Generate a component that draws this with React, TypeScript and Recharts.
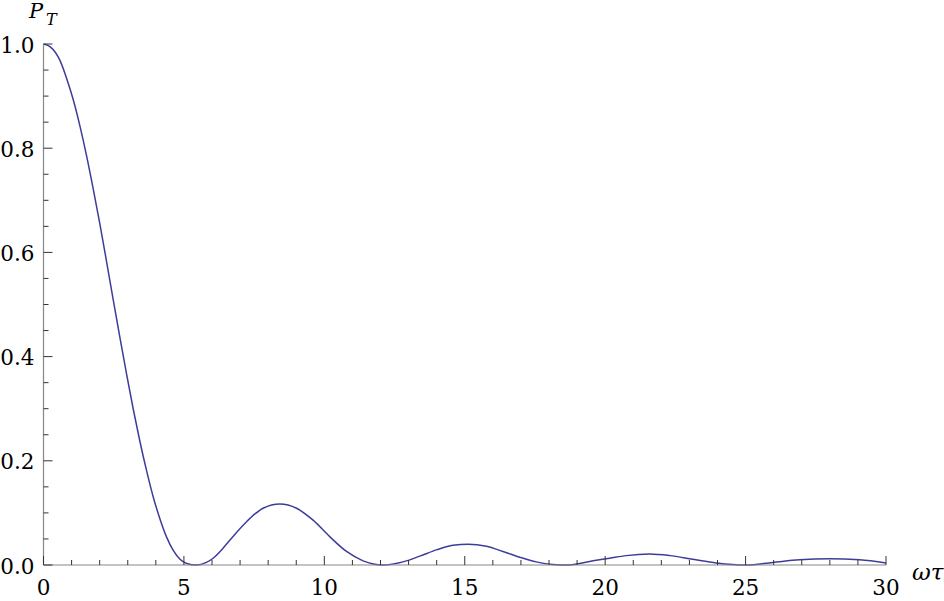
import React from 'react';
import { LineChart, Line, XAxis, YAxis } from 'recharts';

// ωτ values
const omegaTau = [
  0, 0.23, 0.59, 0.83, 1.06, 1.3, 1.54, 1.77, 2.01, 2.25, 2.48, 2.72, 2.96, 3.2, 3.43, 3.67, 3.91,
  4.15, 4.38, 4.62, 4.86, 5.1, 5.45, 5.8, 6.04, 6.34, 6.64, 7.23, 7.53, 7.82, 8.42, 9.01, 9.6,
  10.2, 10.79, 11.38, 12.1, 12.8, 13.4, 13.99, 14.58, 15.12, 15.77, 16.36, 16.96, 17.55, 18.14,
  18.7, 19.57, 20.16, 20.75, 21.58, 22.3, 23.12, 23.96, 25.0, 25.97, 26.92, 27.99, 29.06, 30,
];
// P_T values
const pT = [
  1.0, 0.995, 0.968, 0.933, 0.893, 0.842, 0.784, 0.722, 0.654, 0.581, 0.51, 0.437, 0.366, 0.298,
  0.238, 0.181, 0.13, 0.088, 0.054, 0.028, 0.011, 0.003, 0.0, 0.005, 0.013, 0.029, 0.048, 0.083,
  0.098, 0.109, 0.117, 0.109, 0.086, 0.054, 0.026, 0.008, 0.0, 0.006, 0.017, 0.029, 0.038, 0.04,
  0.036, 0.026, 0.015, 0.006, 0.001, 0.0, 0.008, 0.013, 0.018, 0.021, 0.018, 0.011, 0.004, 0.0,
  0.005, 0.01, 0.012, 0.01, 0.004,
];

const xTicks = [
  0, 1, 2, 3, 4, 5, 6, 7, 8, 9, 10, 11, 12, 13, 14, 15, 16, 17, 18, 19, 20, 21, 22, 23, 24, 25,
  26, 27, 28, 29, 30,
];
const xMajor = [0, 5, 10, 15, 20, 25, 30];
const yTicks = [
  0, 0.05, 0.1, 0.15, 0.2, 0.25, 0.3, 0.35, 0.4, 0.45, 0.5, 0.55, 0.6, 0.65, 0.7, 0.75, 0.8,
  0.85, 0.9, 0.95, 1.0,
];
const yMajor = [0, 0.2, 0.4, 0.6, 0.8, 1.0];

const data = omegaTau.map((x, i) => ({ x, p: pT[i] }));

const FONT = 'DejaVu Serif';
const TICK_FS = 21.5;

const XTick = (props: any) => {
  const { x, y, payload } = props;
  const major = xMajor.includes(payload.value);
  return (
    <g>
      <line x1={x} y1={y} x2={x} y2={y - (major ? 9 : 5)} stroke="#333" strokeWidth={1} />
      {major && (
        <text x={x} y={y + 30} textAnchor="middle" fontFamily={FONT} fontSize={TICK_FS} fill="#000">
          {payload.value}
        </text>
      )}
    </g>
  );
};

const YTick = (props: any) => {
  const { x, y, payload } = props;
  const major = yMajor.some((m) => Math.abs(m - payload.value) < 1e-6);
  return (
    <g>
      <line x1={x} y1={y} x2={x + (major ? 9 : 5)} y2={y} stroke="#333" strokeWidth={1} />
      {major && (
        <text x={x - 9} y={y + 8.5} textAnchor="end" fontFamily={FONT} fontSize={TICK_FS} fill="#000">
          {payload.value.toFixed(1)}
        </text>
      )}
    </g>
  );
};

export default function App() {
  return (
    <div style={{ position: 'absolute', left: 0, top: 0, width: 944, height: 601, background: '#fff' }}>
      <LineChart width={944} height={601} data={data} margin={{ top: 44, right: 58, left: 0, bottom: 0 }}>
        <XAxis
          dataKey="x"
          type="number"
          domain={[0, 30]}
          ticks={xTicks}
          interval={0}
          tickSize={0}
          tickMargin={0}
          height={36}
          axisLine={{ stroke: '#888', strokeWidth: 1.2 }}
          tickLine={false}
          tick={<XTick />}
        />
        <YAxis
          type="number"
          domain={[0, 1]}
          ticks={yTicks}
          interval={0}
          tickSize={0}
          tickMargin={0}
          width={43.5}
          axisLine={{ stroke: '#888', strokeWidth: 1.2 }}
          tickLine={false}
          tick={<YTick />}
        />
        <Line
          type="monotone"
          dataKey="p"
          stroke="#3d3d99"
          strokeWidth={1.5}
          dot={false}
          isAnimationActive={false}
        />
      </LineChart>
      <svg width={944} height={601} style={{ position: 'absolute', left: 0, top: 0, pointerEvents: 'none' }}>
        <text x={29} y={18} fontFamily={FONT} fontStyle="italic" fontSize={21} fill="#000">P</text>
        <text x={46} y={25} fontFamily={FONT} fontStyle="italic" fontSize={16} fill="#000">T</text>
        <text x={912} y={580} fontFamily={FONT} fontStyle="italic" fontSize={23} fill="#000">ωτ</text>
      </svg>
    </div>
  );
}
